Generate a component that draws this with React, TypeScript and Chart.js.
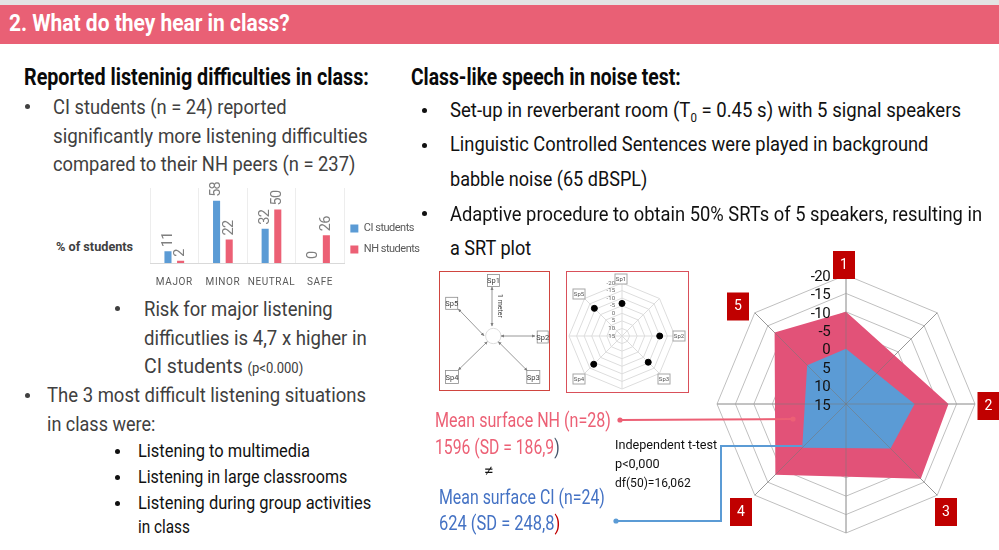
import React, { useEffect, useLayoutEffect, useRef } from "react";
import { Chart, registerables } from "chart.js";

Chart.register(...registerables);

const FONT = "'Roboto', sans-serif";

const barCategories = ["MAJOR", "MINOR", "NEUTRAL", "SAFE"];
const ciShares = [11, 58, 32, 0];
const nhShares = [2, 22, 50, 26];

const spokeLabels = ["1", "", "2", "3", "", "4", "", "5"];
const nhSrt = [-10, null, -12.8, -13.7, null, -12.1, null, -12.4];
const ciSrt = [0, null, -3.6, -2.1, null, -1.8, null, 0.1];

const sampleLabels = ["Sp1", "", "Sp2", "Sp3", "", "Sp4", "", "Sp5"];
const sampleSrt = [-6.5, null, -9.9, -9.5, null, -11.4, null, -10.8];

const srtMin = -20;
const srtMax = 15;

const BLUE = "#5B9BD5";
const PINK = "#EC6075";
const CRIMSON = "#E25278";

const bigBoxOffsets = [
  [-2, -139],
  [],
  [142.5, 2],
  [100, 108],
  [],
  [-105, 108],
  [],
  [-108, -97.5],
];
const smallBoxOffsets = [
  [-1, -57],
  [],
  [57, 0],
  [42, 43],
  [],
  [-43, 43],
  [],
  [-43, -42],
];

type TProps = {
  x: number;
  y: number;
  w?: number;
  size: number;
  color?: string;
  bold?: boolean;
  children: React.ReactNode;
};

function T({ x, y, w, size, color = "#404040", bold, children }: TProps) {
  return (
    <span
      data-w={w}
      style={{
        position: "absolute",
        left: x,
        top: y,
        transform: "translateY(-50%)",
        transformOrigin: "left center",
        whiteSpace: "nowrap",
        fontFamily: FONT,
        fontSize: size,
        lineHeight: 1,
        fontWeight: bold ? 700 : 400,
        color,
      }}
    >
      {children}
    </span>
  );
}

function Bullet({ x, y, color = "#404040" }: { x: number; y: number; color?: string }) {
  return (
    <span
      style={{
        position: "absolute",
        left: x - 2.5,
        top: y - 2.5,
        width: 5,
        height: 5,
        borderRadius: "50%",
        background: color,
      }}
    />
  );
}

const barPlugin = {
  id: "barValues",
  afterLayout(chart: any) {
    chart.legend.left -= 4;
    chart.legend.top += 1;
  },
  beforeDraw(chart: any) {
    chart.ctx.letterSpacing = "-0.5px";
  },
  afterDatasetsDraw(chart: any) {
    const { ctx } = chart;
    chart.data.datasets.forEach((ds: any, di: number) => {
      chart.getDatasetMeta(di).data.forEach((bar: any, i: number) => {
        ctx.save();
        ctx.translate(bar.x, bar.y - 4);
        ctx.rotate(-Math.PI / 2);
        ctx.letterSpacing = "-0.8px";
        ctx.font = `14.5px ${FONT}`;
        ctx.fillStyle = "#7F7F7F";
        ctx.textAlign = "left";
        ctx.textBaseline = "middle";
        ctx.fillText(String(ds.data[i]), 0, 0);
        ctx.restore();
      });
    });
    ctx.letterSpacing = "0.6px";
  },
  afterDraw(chart: any) {
    chart.ctx.letterSpacing = "0px";
  },
};

function radarDecor(
  id: string,
  offsets: number[][],
  spokeColor: string | null,
  drawBox: (ctx: any, cx: number, cy: number, text: string) => void,
  drawTick: (ctx: any, cx: number, y: number, text: string) => void
) {
  return {
    id,
    afterDatasetsDraw(chart: any) {
      const { ctx } = chart;
      const r = chart.scales.r;
      const cx = r.xCenter;
      const cy = r.yCenter;
      if (spokeColor) {
        ctx.save();
        ctx.strokeStyle = spokeColor;
        ctx.lineWidth = 1;
        chart.data.labels.forEach((_: string, i: number) => {
          const p = r.getPointPosition(i, r.drawingArea);
          ctx.beginPath();
          ctx.moveTo(cx, cy);
          ctx.lineTo(p.x, p.y);
          ctx.stroke();
        });
        ctx.restore();
      }
      r.ticks.forEach((t: any) => {
        const y = cy - r.getDistanceFromCenterForValue(t.value);
        drawTick(ctx, cx, y, String(t.value));
      });
      chart.data.labels.forEach((label: string, i: number) => {
        if (!label) return;
        drawBox(ctx, cx + offsets[i][0], cy + offsets[i][1], label);
      });
    },
  };
}

const bigDecor = radarDecor(
  "bigDecor",
  bigBoxOffsets,
  "rgba(120,120,120,0.55)",
  (ctx, x, y, text) => {
    ctx.save();
    ctx.fillStyle = "#C00000";
    ctx.fillRect(x - 11, y - 14, 22, 28);
    ctx.fillStyle = "#FFFFFF";
    ctx.font = `14px ${FONT}`;
    ctx.textAlign = "center";
    ctx.textBaseline = "middle";
    ctx.fillText(text, x, y);
    ctx.restore();
  },
  (ctx, cx, y, text) => {
    ctx.save();
    ctx.letterSpacing = "-0.6px";
    ctx.fillStyle = "#111111";
    ctx.font = `15px ${FONT}`;
    ctx.textAlign = "right";
    ctx.textBaseline = "middle";
    ctx.fillText(text, cx - 16, y + 2);
    ctx.restore();
  }
);

const smallDecor = radarDecor(
  "smallDecor",
  smallBoxOffsets,
  null,
  (ctx, x, y, text) => {
    ctx.save();
    ctx.fillStyle = "#FFFFFF";
    ctx.fillRect(x - 6, y - 5, 12, 10);
    ctx.strokeStyle = "#A6A6A6";
    ctx.lineWidth = 1;
    ctx.strokeRect(x - 6, y - 5, 12, 10);
    ctx.fillStyle = "#555555";
    ctx.font = `6px ${FONT}`;
    ctx.textAlign = "center";
    ctx.textBaseline = "middle";
    ctx.fillText(text, x, y);
    ctx.restore();
  },
  (ctx, cx, y, text) => {
    ctx.save();
    ctx.fillStyle = "#666666";
    ctx.font = `6px ${FONT}`;
    ctx.textAlign = "right";
    ctx.textBaseline = "middle";
    ctx.fillText(text, cx - 7, y);
    ctx.restore();
  }
);

function radialScale(gridColor: string) {
  return {
    r: {
      min: srtMin,
      max: srtMax,
      reverse: true,
      ticks: { stepSize: 5, display: false },
      grid: { color: gridColor, lineWidth: 1 },
      angleLines: { color: gridColor, lineWidth: 1 },
      pointLabels: { display: false },
    },
  };
}

export default function App() {
  const rootRef = useRef<HTMLDivElement>(null);
  const barRef = useRef<HTMLCanvasElement>(null);
  const bigRef = useRef<HTMLCanvasElement>(null);
  const smallRef = useRef<HTMLCanvasElement>(null);

  useLayoutEffect(() => {
    document.body.style.margin = "0";
    rootRef.current?.querySelectorAll<HTMLElement>("[data-w]").forEach((el) => {
      const target = Number(el.dataset.w);
      if (target) {
        el.style.transform = `translateY(-50%) scaleX(${target / el.offsetWidth})`;
      }
    });
  }, []);

  useEffect(() => {
    const bar = new Chart(barRef.current!, {
      type: "bar",
      data: {
        labels: barCategories,
        datasets: [
          { label: "CI students", data: ciShares, backgroundColor: BLUE, categoryPercentage: 0.52, barPercentage: 0.56 },
          { label: "NH students", data: nhShares, backgroundColor: PINK, categoryPercentage: 0.52, barPercentage: 0.56 },
        ],
      },
      options: {
        animation: false,
        responsive: false,
        layout: { padding: { top: 13, left: 0, right: 0, bottom: 0 } },
        plugins: {
          tooltip: { enabled: false },
          legend: {
            position: "right",
            labels: {
              boxWidth: 8,
              boxHeight: 8,
              padding: 10,
              color: "#595959",
              font: { family: FONT, size: 11 },
            },
          },
        },
        scales: {
          x: {
            afterFit(s: any) {
              s.height = 26;
              s.paddingLeft = 0;
              s.paddingRight = 0;
            },
            grid: { color: "#EDEDED", lineWidth: 1, drawTicks: false },
            border: { color: "#D9D9D9", width: 1 },
            ticks: {
              z: 1,
              autoSkip: false,
              maxRotation: 0,
              padding: 13,
              color: "#595959",
              font: { family: FONT, size: 10 },
            },
          },
          y: { display: false, min: 0, max: 70 },
        },
      } as any,
      plugins: [barPlugin],
    });

    const big = new Chart(bigRef.current!, {
      type: "radar",
      data: {
        labels: spokeLabels,
        datasets: [
          {
            label: "CI",
            data: ciSrt,
            backgroundColor: BLUE,
            borderColor: BLUE,
            borderWidth: 0,
            pointRadius: 0,
            fill: "start",
            spanGaps: true,
          },
          {
            label: "NH",
            data: nhSrt,
            backgroundColor: CRIMSON,
            borderColor: CRIMSON,
            borderWidth: 0,
            pointRadius: 0,
            fill: "start",
            spanGaps: true,
          },
        ],
      },
      options: {
        animation: false,
        responsive: false,
        layout: { padding: { left: 27, right: 24, top: 25, bottom: 17 } },
        plugins: { legend: { display: false }, tooltip: { enabled: false } },
        scales: radialScale("#BFBFBF"),
      } as any,
      plugins: [bigDecor],
    });

    const small = new Chart(smallRef.current!, {
      type: "radar",
      data: {
        labels: sampleLabels,
        datasets: [
          {
            label: "Sample",
            data: sampleSrt,
            showLine: false,
            fill: false,
            backgroundColor: "#000000",
            borderColor: "#000000",
            pointRadius: 3,
            spanGaps: true,
          },
        ],
      },
      options: {
        animation: false,
        responsive: false,
        layout: { padding: { left: 2, right: 17, top: 11, bottom: 3 } },
        plugins: { legend: { display: false }, tooltip: { enabled: false } },
        scales: radialScale("#DDDDDD"),
      } as any,
      plugins: [smallDecor],
    });

    return () => {
      bar.destroy();
      big.destroy();
      small.destroy();
    };
  }, []);

  const box = (cx: number, cy: number, w: number, h: number, t: string) => (
    <g key={t}>
      <rect x={cx - w / 2} y={cy - h / 2} width={w} height={h} fill="#fff" stroke="#8C8C8C" strokeWidth={0.8} />
      <text x={cx} y={cy + 2.5} fontSize={7.5} textAnchor="middle" fill="#404040" fontFamily={FONT}>
        {t}
      </text>
    </g>
  );

  const arrows = [
    [492, 287, 492, 326],
    [458.3, 309, 484, 335.7],
    [501, 336, 535, 336],
    [498.3, 341.7, 527.3, 370.7],
    [487.3, 341.7, 458.3, 370],
  ];

  return (
    <div
      ref={rootRef}
      style={{ position: "absolute", left: 0, top: 0, width: 999, height: 550, overflow: "hidden", background: "#fff" }}
    >
      <div style={{ position: "absolute", left: 0, top: 0, width: 999, height: 5, background: "#E3E3E3" }} />
      <div style={{ position: "absolute", left: 0, top: 5, width: 999, height: 39, background: "#E96075" }} />
      <T x={9} y={23} w={281} size={24} bold color="#fff">2. What do they hear in class?</T>

      <T x={24} y={77} w={345} size={24} bold color="#0A0A0A">Reported listeninig difficulties in class:</T>
      <Bullet x={27} y={106} />
      <T x={53} y={107} w={234} size={21}>CI students (n = 24) reported</T>
      <T x={53} y={136} w={315} size={21}>significantly more listening difficulties</T>
      <T x={53} y={164} w={302} size={21}>compared to their NH peers (n = 237)</T>

      <T x={56} y={246} w={77} size={13} bold>% of students</T>
      <canvas ref={barRef} width={289} height={114} style={{ position: "absolute", left: 150, top: 175 }} />

      <Bullet x={117} y={308} />
      <T x={144} y={309} w={189} size={21}>Risk for major listening</T>
      <T x={144} y={338} w={223} size={21}>difficutlies is 4,7 x higher in</T>
      <T x={144} y={366} w={159} size={21}>CI students <span style={{ fontSize: 14 }}>(p&lt;0.000)</span></T>
      <Bullet x={27} y={395} />
      <T x={47} y={395} w={319} size={21}>The 3 most difficult listening situations</T>
      <T x={47} y={424} w={108} size={21}>in class were:</T>
      <Bullet x={117} y={451} color="#111" />
      <T x={138} y={451} w={172} size={18} color="#111">Listening to multimedia</T>
      <Bullet x={117} y={477} color="#111" />
      <T x={138} y={477} w={209} size={18} color="#111">Listening in large classrooms</T>
      <Bullet x={117} y={503} color="#111" />
      <T x={138} y={503} w={233} size={18} color="#111">Listening during group activities</T>
      <T x={138} y={527} w={52} size={18} color="#111">in class</T>

      <T x={411} y={77} w={270} size={24} bold color="#0A0A0A">Class-like speech in noise test:</T>
      <Bullet x={424} y={110} color="#111" />
      <T x={450} y={110} w={511} size={21} color="#111">Set-up in reverberant room (T<sub style={{ fontSize: 13, lineHeight: 0 }}>0</sub> = 0.45 s) with 5 signal speakers</T>
      <Bullet x={424} y={145} color="#111" />
      <T x={450} y={144} w={478} size={21} color="#111">Linguistic Controlled Sentences were played in background</T>
      <T x={450} y={179} w={197} size={21} color="#111">babble noise (65 dBSPL)</T>
      <Bullet x={424} y={213} color="#111" />
      <T x={450} y={214} w={532} size={21} color="#111">Adaptive procedure to obtain 50% SRTs of 5 speakers, resulting in</T>
      <T x={450} y={248} w={81} size={21} color="#111">a SRT plot</T>

      <div style={{ position: "absolute", left: 439, top: 271, width: 109, height: 118, border: "1px solid #D0453F", boxSizing: "content-box" }} />
      <div style={{ position: "absolute", left: 566, top: 271, width: 121, height: 120, border: "1px solid #D9505A", boxSizing: "content-box" }} />
      <canvas ref={smallRef} width={125} height={120} style={{ position: "absolute", left: 567, top: 272 }} />
      <canvas ref={bigRef} width={309} height={300} style={{ position: "absolute", left: 690, top: 250 }} />

      <svg width={999} height={550} style={{ position: "absolute", left: 0, top: 0, pointerEvents: "none" }}>
        <defs>
          <marker id="ah" markerWidth={5} markerHeight={5} refX={4} refY={2.5} orient="auto-start-reverse">
            <path d="M0,0.5 L4.5,2.5 L0,4.5 Z" fill="#7F7F7F" />
          </marker>
        </defs>
        <circle cx={493.3} cy={336} r={7.7} fill="#fff" stroke="#DDDDDD" />
        {arrows.map((a, i) => (
          <line key={i} x1={a[0]} y1={a[1]} x2={a[2]} y2={a[3]} stroke="#7F7F7F" strokeWidth={0.8} markerStart="url(#ah)" markerEnd="url(#ah)" />
        ))}
        {box(493.5, 280.5, 12, 12, "Sp1")}
        {box(451.7, 303.3, 12, 12, "Sp5")}
        {box(542.7, 337, 11, 12, "Sp2")}
        {box(533.3, 377, 13, 13, "Sp3")}
        {box(452, 377, 13, 13, "Sp4")}
        <text transform="translate(498,306) rotate(90)" fontSize={7} textAnchor="middle" fill="#404040" fontFamily={FONT}>1 meter</text>

        <line x1={620} y1={420} x2={793} y2={419} stroke={PINK} strokeWidth={2} />
        <circle cx={620} cy={420} r={2.6} fill={PINK} />
        <circle cx={793} cy={419} r={2.6} fill={PINK} />
        <polyline points="616,521 721,521 721,446 802,446" fill="none" stroke={BLUE} strokeWidth={2} />
        <circle cx={616} cy={521} r={2.6} fill={BLUE} />
      </svg>

      <T x={435} y={420} w={176} size={20} color={PINK}>Mean surface NH (n=28)</T>
      <T x={435} y={447} w={125} size={20} color={PINK}>1596 (SD = 186,9<span style={{ color: "#44546A" }}>)</span></T>
      <T x={484} y={471} w={10} size={16} color="#111">≠</T>
      <T x={439} y={497} w={166} size={20} color="#4472C4">Mean surface CI (n=24)</T>
      <T x={439} y={523} w={121} size={20} color="#4472C4">624 (SD = 248,8<span style={{ color: "#C00000" }}>)</span></T>
      <T x={615} y={444} w={102} size={13} color="#111">Independent t-test</T>
      <T x={615} y={463} w={45} size={13} color="#111">p&lt;0,000</T>
      <T x={615} y={482} w={76} size={13} color="#111">df(50)=16,062</T>
    </div>
  );
}
